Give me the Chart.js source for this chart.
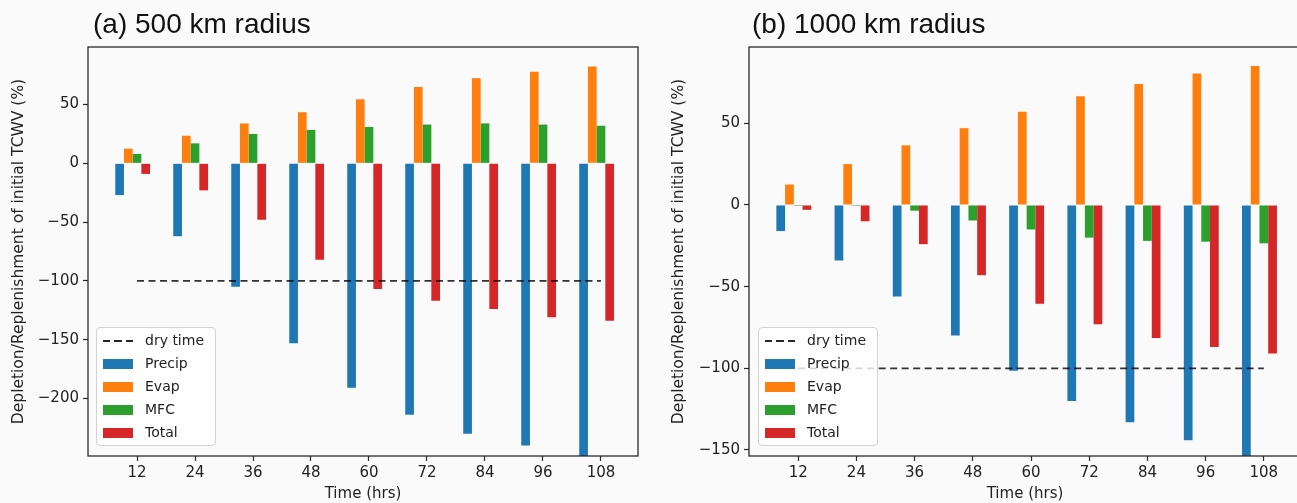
<!DOCTYPE html>
<html><head><meta charset="utf-8">
<script src="https://cdn.jsdelivr.net/npm/chart.js@4.4.1/dist/chart.umd.min.js"></script>
<style>
html,body{margin:0;padding:0;background:#fafafa;overflow:hidden;width:1297px;height:503px;position:relative}
canvas{position:absolute;top:0;display:block}
.ttl{position:absolute;top:9px;font-family:'Liberation Sans',Arial,sans-serif;font-size:28px;line-height:30px;color:#111;white-space:nowrap}
.leg{position:absolute;width:118px;height:117px;border:1px solid #d2d2d2;border-radius:4px;background:rgba(255,255,255,0.8);font-family:'DejaVu Sans',sans-serif;font-size:14px;color:#222;box-sizing:content-box}
.leg .h{position:absolute;left:6px;width:30px;height:10px}
.leg .d{position:absolute;left:6px;width:30px;height:2px;background:repeating-linear-gradient(to right,rgba(0,0,0,0.85) 0 7px,transparent 7px 11.5px)}
.leg .t{position:absolute;left:48px;line-height:18px;white-space:nowrap}
</style>
</head><body>
<canvas id="cA" width="650" height="503" style="left:0"></canvas>
<canvas id="cB" width="660" height="503" style="left:650px"></canvas>
<div class="ttl" style="left:93px">(a) 500 km radius</div>
<div class="ttl" style="left:752px">(b) 1000 km radius</div>
<div class="leg" id="legA" style="left:96px;top:327px"></div>
<div class="leg" id="legB" style="left:758px;top:327px"></div>
<script>
// ---- data ----
const hours = [12, 24, 36, 48, 60, 72, 84, 96, 108];
const seriesNames = ['Precip', 'Evap', 'MFC', 'Total'];
const dryLabel = 'dry time';
const dryTime = -100;

// (a) 500 km radius
const precipA = [-27, -62, -105, -153, -191, -214, -230, -240, -258];
const evapA   = [12.5, 23.5, 34, 43.5, 54.5, 65, 72.5, 78, 82.5];
const mfcA    = [8, 17, 25, 28.5, 31, 33, 34, 33, 32];
const totalA  = [-9, -23, -48, -82, -107, -117, -124, -131, -134];
const yTicksA = [-200, -150, -100, -50, 0, 50];

// (b) 1000 km radius
const precipB = [-16, -34, -56, -80, -101.5, -120, -133, -144, -158];
const evapB   = [12.5, 25, 36.5, 47, 57, 66.5, 74, 80.5, 85];
const mfcB    = [-0.6, -0.6, -3.5, -9.5, -15, -20, -22, -22.5, -23.5];
const totalB  = [-3, -10, -24, -43, -60.5, -73, -81.5, -87, -91];
const yTicksB = [-150, -100, -50, 0, 50];

const yTitle = 'Depletion/Replenishment of initial TCWV (%)';
const xTitle = 'Time (hrs)';

// ---- styles ----
const colors = ['#1f77b4', '#ff7f0e', '#2ca02c', '#d62728'];
const tickFont = {family: "'DejaVu Sans', sans-serif", size: 15};
const yTitleFont = {family: "'DejaVu Sans', sans-serif", size: 15.5};
const xTitleFont = {family: "'DejaVu Sans', sans-serif", size: 15};
const ink = '#222';
const frameColor = '#2a2a2a';

const framePlugin = {
  id: 'frame',
  afterDatasetsDraw(chart) {
    const {ctx, chartArea: a} = chart;
    ctx.save();
    ctx.strokeStyle = frameColor;
    ctx.lineWidth = 1.3;
    ctx.strokeRect(a.left, a.top, a.right - a.left, a.bottom - a.top);
    ctx.restore();
  }
};

function fmt(v) { return (v < 0 ? '\u2212' : '') + Math.abs(v); }

function makeChart(id, series, yTicks, yMin, yMax, yAxisWidth, yTitlePad, padRight) {
  const datasets = [{
    type: 'line', label: dryLabel,
    data: hours.map(h => ({x: h, y: dryTime})),
    borderColor: 'rgba(0,0,0,0.8)', borderWidth: 1.8, borderDash: [7, 4.5],
    pointRadius: 0, fill: false
  }];
  series.forEach((vals, k) => datasets.push({
    type: 'bar', label: seriesNames[k],
    data: hours.map((h, i) => ({x: h, y: vals[i]})),
    backgroundColor: colors[k], borderWidth: 0,
    categoryPercentage: 0.75, barPercentage: 1
  }));
  // empty slot so the four bars sit left of the tick, as in the original grouped layout
  datasets.push({type: 'bar', label: '', data: [], categoryPercentage: 0.75, barPercentage: 1});

  const tickGrid = {display: true, drawOnChartArea: false, drawTicks: true, tickLength: 5,
                    tickColor: frameColor, tickWidth: 1.2, offset: false};
  return new Chart(document.getElementById(id), {
    type: 'bar',
    data: {datasets},
    plugins: [framePlugin],
    options: {
      responsive: false, animation: false,
      layout: {padding: {left: 0, right: padRight, top: 47, bottom: 0}},
      plugins: {legend: {display: false}, tooltip: {enabled: false}},
      scales: {
        x: {
          type: 'linear', min: 1.86, max: 115.66, offset: false,
          grid: tickGrid, border: {display: false},
          afterBuildTicks: ax => { ax.ticks = hours.map(v => ({value: v})); },
          afterFit: ax => { ax.height = 47; },
          ticks: {font: tickFont, color: ink, padding: 3, autoSkip: false, maxRotation: 0, callback: v => String(v)},
          title: {display: true, text: xTitle, font: xTitleFont, color: ink, padding: {top: 0, bottom: 0}}
        },
        y: {
          type: 'linear', min: yMin, max: yMax,
          grid: tickGrid, border: {display: false},
          afterBuildTicks: ax => { ax.ticks = yTicks.map(v => ({value: v})); },
          afterFit: ax => { ax.width = yAxisWidth; },
          ticks: {font: tickFont, color: ink, padding: 4, callback: v => fmt(v)},
          title: {display: true, text: yTitle, font: yTitleFont, color: ink, padding: {top: yTitlePad, bottom: 0}}
        }
      }
    }
  });
}

makeChart('cA', [precipA, evapA, mfcA, totalA], yTicksA, -249, 99, 88, 9.2, 12);
makeChart('cB', [precipB, evapB, mfcB, totalB], yTicksB, -153.7, 96.7, 99, 19.7, 9);

function buildLegend(id) {
  const box = document.getElementById(id);
  const rowY = [12.5, 35.5, 58.5, 81.5, 104.5];
  const entries = [{label: dryLabel, dash: true}].concat(seriesNames.map((n, k) => ({label: n, color: colors[k]})));
  entries.forEach((e, i) => {
    const h = document.createElement('div');
    if (e.dash) { h.className = 'd'; h.style.top = (rowY[i] - 1) + 'px'; }
    else { h.className = 'h'; h.style.top = (rowY[i] - 5) + 'px'; h.style.background = e.color; }
    box.appendChild(h);
    const t = document.createElement('div');
    t.className = 't'; t.textContent = e.label; t.style.top = (rowY[i] - 10) + 'px';
    box.appendChild(t);
  });
}
buildLegend('legA');
buildLegend('legB');
</script>
</body></html>
